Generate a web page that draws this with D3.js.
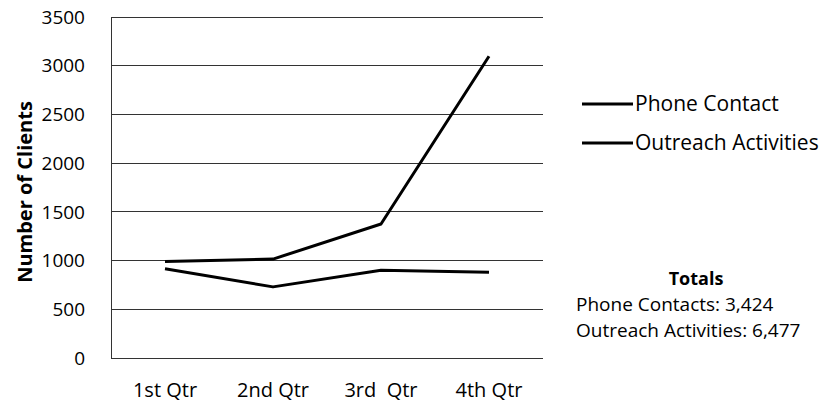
<!DOCTYPE html>
<html><head><meta charset="utf-8">
<script src="https://cdn.jsdelivr.net/npm/d3@7"></script>
<style>body{margin:0;background:#fff}svg{display:block}</style>
</head><body>
<svg id="c" width="822" height="404"></svg>
<script>
const categories = ["1st Qtr", "2nd Qtr", "3rd  Qtr", "4th Qtr"];
const outreachValues = [990, 1015, 1375, 3097];
const phoneValues = [915, 730, 900, 879];
const yTicks = [0, 500, 1000, 1500, 2000, 2500, 3000, 3500];
const legendLabels = ["Phone Contact", "Outreach Activities"];
const totalsLines = ["Phone Contacts: 3,424", "Outreach Activities: 6,477"];

const font = "'Open Sans', 'Liberation Sans', sans-serif";
const svg = d3.select("#c");
const m = {left: 111, right: 543, top: 17, bottom: 358};
const x = d3.scalePoint().domain(categories).range([m.left, m.right]).padding(0.5);
const y = d3.scaleLinear().domain([0, 3500]).range([m.bottom, m.top]);

// gridlines
svg.append("g").selectAll("line").data(yTicks).join("line")
  .attr("x1", m.left).attr("x2", m.right)
  .attr("y1", d => y(d)).attr("y2", d => y(d))
  .attr("stroke", "#333").attr("stroke-width", 1).attr("shape-rendering", "crispEdges");
// left axis line
svg.append("line").attr("x1", m.left).attr("x2", m.left).attr("y1", m.top).attr("y2", m.bottom)
  .attr("stroke", "#333").attr("stroke-width", 1).attr("shape-rendering", "crispEdges");

// y tick labels
svg.append("g").selectAll("text").data(yTicks).join("text")
  .attr("x", 85).attr("y", d => y(d)).attr("dy", "0.35em")
  .attr("text-anchor", "end").attr("font-family", font).attr("font-size", 19)
  .text(d => d);

// x labels
svg.append("g").selectAll("text").data(categories).join("text")
  .attr("x", d => x(d)).attr("y", 397)
  .attr("text-anchor", "middle").attr("font-family", font).attr("font-size", 20)
  .attr("xml:space", "preserve").style("white-space", "pre")
  .text(d => d);

// y title
svg.append("text").attr("transform", "translate(32,192) rotate(-90)")
  .attr("text-anchor", "middle").attr("font-family", font).attr("font-size", 20)
  .attr("font-weight", "bold").text("Number of Clients");

const line = d3.line().x((d, i) => x(categories[i])).y(d => y(d));
[outreachValues, phoneValues].forEach(vals => {
  svg.append("path").datum(vals).attr("d", line)
    .attr("fill", "none").attr("stroke", "#000").attr("stroke-width", 3)
    .attr("stroke-linejoin", "round");
});

// legend
const lg = svg.append("g").selectAll("g").data(legendLabels).join("g")
  .attr("transform", (d, i) => `translate(582,${104 + i * 39})`);
lg.append("line").attr("x1", 0).attr("x2", 51).attr("stroke", "#000").attr("stroke-width", 3);
lg.append("text").attr("x", 53).attr("dy", "0.35em").attr("font-family", font)
  .attr("font-size", 21).text(d => d);

// totals
svg.append("text").attr("x", 696).attr("y", 285).attr("text-anchor", "middle")
  .attr("font-family", font).attr("font-size", 18).attr("font-weight", "bold").text("Totals");
svg.append("g").selectAll("text").data(totalsLines).join("text")
  .attr("x", 576).attr("y", (d, i) => 311 + i * 26)
  .attr("font-family", font).attr("font-size", 19).text(d => d);
</script>
</body></html>
